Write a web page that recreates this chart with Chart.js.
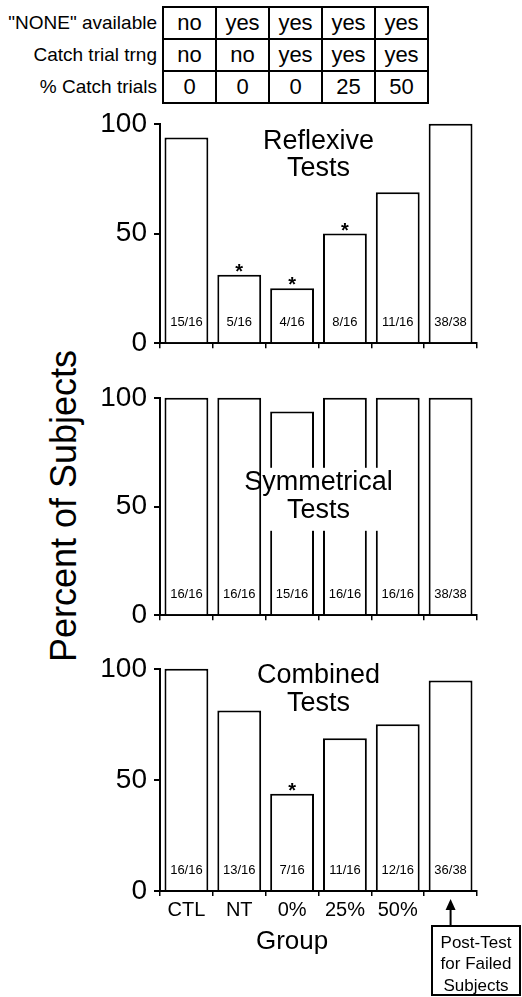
<!DOCTYPE html>
<html>
<head>
<meta charset="utf-8">
<script src="https://cdn.jsdelivr.net/npm/chart.js@4/dist/chart.umd.min.js"></script>
<style>
  body { margin: 0; background: #fff; }
  #page { position: relative; width: 522px; height: 997px; overflow: hidden; font-family: "Liberation Sans", Arial, sans-serif; color: #000; }
  canvas { position: absolute; left: 0; }
  #cond { position: absolute; left: 0; top: 6px; border-collapse: collapse; table-layout: fixed; }
  #cond td { height: 30px; padding: 0; text-align: center; vertical-align: middle; font-size: 22px; border: 2px solid #000; }
  #cond td.lab { border: none; text-align: right; padding-right: 5px; font-size: 19px; white-space: nowrap; }
  #ytitle { position: absolute; left: -136px; top: 484px; width: 400px; height: 44px; line-height: 44px; text-align: center; font-size: 36px; transform: rotate(-90deg); }
</style>
</head>
<body>
<div id="page">
  <table id="cond">
    <colgroup><col style="width:163px"><col style="width:53px"><col style="width:53px"><col style="width:53px"><col style="width:53px"><col style="width:53px"></colgroup>
    <tbody id="condBody"></tbody>
  </table>
  <div id="ytitle">Percent of Subjects</div>
  <canvas id="reflexive" width="522" height="267" style="top:100px"></canvas>
  <canvas id="symmetrical" width="522" height="265" style="top:374px"></canvas>
  <canvas id="combined" width="522" height="352" style="top:645px"></canvas>
</div>
<script>
// groups on the x axis (last bar is the post-test, unlabeled)
const groups = ["CTL", "NT", "0%", "25%", "50%", ""];
const yTicks = [0, 50, 100];

const reflexivePct = [93.75, 31.25, 25, 50, 68.75, 100];
const reflexiveCounts = ["15/16", "5/16", "4/16", "8/16", "11/16", "38/38"];
const reflexiveSig = [false, true, true, true, false, false];

const symmetricalPct = [100, 100, 93.75, 100, 100, 100];
const symmetricalCounts = ["16/16", "16/16", "15/16", "16/16", "16/16", "38/38"];
const symmetricalSig = [false, false, false, false, false, false];

const combinedPct = [100, 81.25, 43.75, 68.75, 75, 94.74];
const combinedCounts = ["16/16", "13/16", "7/16", "11/16", "12/16", "36/38"];
const combinedSig = [false, false, true, false, false, false];

// condition table above the panels
const rowLabels = ['"NONE" available', "Catch trial trng", "% Catch trials"];
const noneAvailable = ["no", "yes", "yes", "yes", "yes"];
const catchTraining = ["no", "no", "yes", "yes", "yes"];
const catchPct = ["0", "0", "0", "25", "50"];

const FONT = '"Liberation Sans", Arial, sans-serif';
Chart.defaults.font.family = FONT;
Chart.defaults.color = "#000";

// fill the table
const body = document.getElementById("condBody");
[noneAvailable, catchTraining, catchPct].forEach((row, r) => {
  const tr = document.createElement("tr");
  const lab = document.createElement("td");
  lab.className = "lab"; lab.textContent = rowLabels[r];
  tr.appendChild(lab);
  row.forEach(v => { const td = document.createElement("td"); td.textContent = v; tr.appendChild(td); });
  body.appendChild(tr);
});

const panelDecor = {
  id: "panelDecor",
  afterDatasetsDraw(chart, args, opts){
    const {ctx, chartArea, scales: {y}} = chart;
    const bars = chart.getDatasetMeta(0).data;
    const cx = (chartArea.left + chartArea.right) / 2;
    ctx.save();
    if(opts.box){
      ctx.fillStyle = "#fff";
      ctx.fillRect(cx + opts.box[0], chartArea.top + opts.box[1], opts.box[2], opts.box[3]);
    }
    ctx.fillStyle = "#000";
    ctx.textAlign = "center";
    ctx.textBaseline = "middle";
    ctx.font = "27px " + FONT;
    opts.title.forEach((t, i) => ctx.fillText(t, cx, chartArea.top + opts.titleY[i]));
    bars.forEach((bar, i) => {
      ctx.font = "13px " + FONT;
      ctx.textBaseline = "middle";
      ctx.fillText(opts.counts[i], bar.x, y.bottom - 21);
      if(opts.sig[i]){
        ctx.font = "bold 20px " + FONT;
        ctx.textBaseline = "alphabetic";
        ctx.fillText("*", bar.x, bar.y + 3);
      }
    });
    ctx.restore();
  }
};

const footer = {
  id: "footer",
  afterDraw(chart){
    const {ctx, chartArea, scales: {x}} = chart;
    const b = chartArea.bottom;
    const half = (x.getPixelForValue(1) - x.getPixelForValue(0)) / 2;
    ctx.save();
    ctx.fillStyle = "#000";
    ctx.strokeStyle = "#000";
    ctx.textAlign = "center";
    ctx.textBaseline = "middle";
    // axis title centred under the five groups
    ctx.font = "26px " + FONT;
    ctx.fillText("Group", (x.left + x.getPixelForValue(4) + half) / 2, b + 51);
    // arrow pointing at the last bar
    const ax = x.getPixelForValue(5);
    ctx.lineWidth = 2;
    ctx.beginPath(); ctx.moveTo(ax, b + 35); ctx.lineTo(ax, b + 17); ctx.stroke();
    ctx.beginPath(); ctx.moveTo(ax, b + 8); ctx.lineTo(ax - 5, b + 19); ctx.lineTo(ax + 5, b + 19); ctx.closePath(); ctx.fill();
    ctx.strokeRect(432, b + 35, 88, 69);
    ctx.font = "17px " + FONT;
    ["Post-Test", "for Failed", "Subjects"].forEach((t, i) => ctx.fillText(t, 476, b + 52 + i * 21.5));
    ctx.restore();
  }
};

function buildPanel(id, values, counts, sig, title, titleY, box, showLabels){
  const padBottom = showLabels ? 66 : 14;
  return new Chart(document.getElementById(id), {
    type: "bar",
    data: { labels: groups, datasets: [{
      data: values, backgroundColor: "#fff", borderColor: "#000", borderWidth: 2,
      borderSkipped: "bottom", barPercentage: 0.83, categoryPercentage: 1, clip: false
    }]},
    options: {
      responsive: false, animation: false,
      layout: { padding: { top: 23, right: 45, bottom: padBottom, left: 0 } },
      plugins: {
        legend: { display: false }, tooltip: { enabled: false },
        panelDecor: { title, titleY, box, counts, sig }
      },
      scales: {
        x: {
          grid: { offset: true, drawOnChartArea: false, tickLength: 5, color: "#000", lineWidth: 1.5 },
          border: { color: "#000", width: 2 },
          ticks: { display: showLabels, font: { size: 20 }, padding: 2, maxRotation: 0 },
          afterFit: s => { s.height = showLabels ? 40 : 6; }
        },
        y: {
          min: 0, max: 100,
          afterBuildTicks: s => { s.ticks = yTicks.map(v => ({ value: v })); },
          grid: { drawOnChartArea: false, tickLength: 6, color: "#000", lineWidth: 2 },
          border: { color: "#000", width: 2 },
          ticks: { font: { size: 28 }, padding: 7 },
          afterFit: s => { s.width = 160; }
        }
      }
    },
    plugins: showLabels ? [panelDecor, footer] : [panelDecor]
  });
}

buildPanel("reflexive", reflexivePct, reflexiveCounts, reflexiveSig, ["Reflexive", "Tests"], [18, 45], null, false);
buildPanel("symmetrical", symmetricalPct, symmetricalCounts, symmetricalSig, ["Symmetrical", "Tests"], [85, 113], [-52, 70, 114, 63], false);
buildPanel("combined", combinedPct, combinedCounts, combinedSig, ["Combined", "Tests"], [7, 35], null, true);
</script>
</body>
</html>
